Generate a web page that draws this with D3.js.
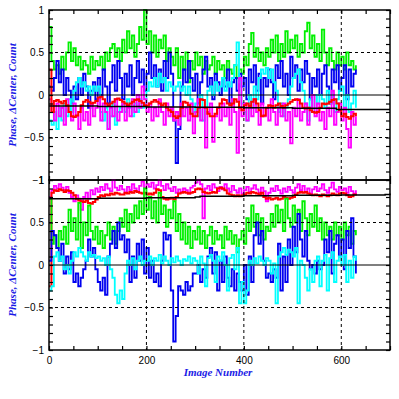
<!DOCTYPE html>
<html>
<head>
<meta charset="utf-8">
<script src="https://cdn.jsdelivr.net/npm/d3@7"></script>
<style>
body { margin: 0; background: #fff; }
svg { display: block; }
</style>
</head>
<body>
<svg></svg>
<script>
var width = 399;
var height = 399;
var left = 49;
var right = 390;

// image numbers sampled every 5 frames
var imageNumbers = d3.range(0, 631, 5);

var topGreen = [
  0.80,0.40,0.30,0.35,0.25,0.45,0.30,0.50,0.62,0.40,
  0.55,0.35,0.45,0.30,0.40,0.35,0.25,0.45,0.30,0.40,
  0.35,0.45,0.30,0.50,0.40,0.55,0.60,0.45,0.55,0.40,
  0.65,0.50,0.75,0.55,0.70,0.45,0.60,0.80,0.65,1.00,
  0.60,0.75,0.50,0.70,0.45,0.65,0.55,0.70,0.40,0.55,
  0.45,0.35,0.55,0.20,0.45,0.30,0.50,0.15,0.40,0.30,
  0.50,0.35,0.45,0.25,0.40,0.30,0.35,0.45,0.25,0.40,
  0.30,0.35,0.20,0.40,0.30,0.25,0.35,0.20,0.30,0.25,
  0.45,0.35,0.60,0.73,0.45,0.55,0.40,0.50,0.35,0.55,
  0.45,0.65,0.50,0.70,0.40,0.60,0.45,0.75,0.50,0.65,
  0.55,0.70,0.45,0.60,0.50,0.75,0.85,0.55,0.70,0.45,
  0.60,0.40,0.77,0.50,0.35,0.55,0.40,0.30,0.50,0.35,
  0.45,0.30,0.50,0.35,0.40,0.30,0.35
];
var topBlue = [
  0.10,0.05,0.20,0.40,0.15,0.30,0.00,0.20,0.05,-0.10,
  0.10,-0.05,0.20,0.00,0.25,0.10,-0.15,0.05,0.15,-0.05,
  0.20,0.00,0.30,0.10,-0.10,0.15,0.35,0.05,0.40,0.20,
  -0.05,0.25,0.10,0.35,0.00,0.20,0.40,0.15,0.30,0.05,
  0.25,0.50,0.20,0.35,0.10,0.30,0.05,0.40,0.20,0.50,
  0.25,-0.30,-0.80,-0.40,0.10,0.30,0.15,0.40,0.20,0.05,
  0.25,-0.10,0.15,0.30,0.45,0.10,0.20,-0.05,0.25,0.15,
  0.00,0.20,0.10,0.30,-0.10,0.15,0.20,0.05,0.25,0.10,
  0.20,-0.05,0.30,0.15,0.35,0.05,0.25,-0.10,0.20,0.10,
  0.30,0.15,-0.05,0.35,0.20,0.40,0.10,0.25,0.00,0.45,
  0.20,0.35,0.05,0.30,0.15,0.40,0.25,-0.05,0.20,0.10,
  0.30,0.00,0.25,0.35,0.10,-0.10,0.30,0.15,0.35,0.05,
  0.20,0.35,-0.05,0.30,0.10,0.25,0.30
];
var topCyan = [
  -0.30,-0.35,-0.20,-0.40,-0.15,-0.30,-0.10,-0.25,-0.05,-0.20,
  0.05,0.15,0.20,0.10,0.15,0.05,0.10,0.00,0.10,0.05,
  0.10,-0.20,-0.30,-0.15,-0.40,-0.25,-0.10,-0.35,-0.20,-0.15,
  -0.10,-0.20,-0.05,-0.15,-0.25,-0.10,-0.20,-0.05,-0.15,-0.10,
  0.05,0.15,0.10,0.20,0.10,0.25,0.15,0.20,0.05,0.15,
  0.10,0.05,0.10,0.15,0.05,0.10,0.00,0.10,-0.05,-0.20,
  -0.10,-0.25,0.00,-0.30,-0.15,0.05,0.10,0.00,0.15,0.05,
  0.10,0.20,0.05,0.15,0.10,0.20,0.35,0.62,0.15,-0.10,
  -0.20,-0.30,0.00,-0.15,0.10,-0.05,0.20,0.30,0.25,0.32,
  0.20,0.30,0.15,0.05,-0.20,-0.10,-0.25,-0.15,-0.05,0.10,
  0.20,0.25,0.30,0.15,0.05,-0.10,-0.30,-0.05,-0.20,0.00,
  -0.10,0.00,-0.05,-0.15,0.05,-0.10,0.00,-0.20,-0.05,0.05,
  0.10,-0.15,0.00,-0.20,-0.10,0.05,-0.15
];
var topMagenta = [
  -0.05,-0.20,-0.30,-0.10,-0.25,-0.15,-0.35,-0.05,-0.20,-0.30,
  -0.10,-0.25,-0.40,-0.15,-0.30,-0.20,-0.35,-0.10,-0.25,-0.15,
  -0.05,-0.30,-0.10,-0.20,-0.40,-0.15,-0.25,-0.05,-0.30,-0.20,
  -0.10,-0.30,-0.15,-0.25,-0.05,-0.20,0.00,-0.15,0.10,-0.05,
  -0.20,-0.10,-0.30,-0.15,-0.25,-0.05,-0.20,-0.35,-0.10,-0.25,
  -0.15,-0.30,-0.20,-0.35,-0.10,-0.25,-0.15,-0.30,-0.10,-0.45,
  -0.20,-0.05,-0.30,-0.15,-0.62,-0.20,-0.10,-0.55,-0.25,-0.15,
  -0.30,-0.10,-0.25,-0.15,-0.35,-0.05,-0.20,-0.68,0.20,-0.25,
  -0.10,-0.30,-0.15,-0.25,-0.05,-0.20,-0.35,-0.10,-0.25,-0.15,
  -0.30,-0.05,-0.20,-0.35,-0.15,-0.25,-0.10,-0.30,-0.20,-0.57,
  -0.15,-0.25,-0.05,-0.30,-0.20,-0.10,-0.35,-0.15,0.00,-0.25,
  -0.10,-0.30,-0.20,-0.40,-0.15,-0.25,0.05,-0.35,-0.20,-0.10,
  -0.30,-0.15,-0.40,-0.62,-0.20,-0.35,-0.25
];
var topRed = [
  0.30,-0.20,-0.07,-0.06,-0.08,-0.10,-0.07,-0.12,-0.20,-0.25,
  -0.26,-0.24,-0.20,-0.12,-0.08,-0.06,-0.08,-0.10,-0.09,-0.07,
  -0.03,-0.02,-0.05,-0.10,-0.12,-0.10,-0.08,-0.05,-0.04,-0.06,
  -0.08,-0.10,-0.12,-0.10,-0.08,-0.06,-0.05,-0.07,-0.09,-0.12,
  -0.13,-0.10,-0.08,-0.06,-0.08,-0.10,-0.12,-0.10,-0.15,-0.18,
  -0.20,-0.25,-0.27,-0.25,-0.15,-0.08,-0.09,-0.12,-0.22,-0.25,
  -0.25,-0.15,-0.05,-0.06,-0.15,-0.22,-0.25,-0.25,-0.22,-0.15,
  -0.10,-0.05,-0.06,-0.10,-0.12,-0.10,-0.05,-0.08,-0.15,-0.18,
  -0.12,-0.10,-0.13,-0.08,-0.05,-0.10,-0.18,-0.25,-0.24,-0.15,
  -0.12,-0.13,-0.15,-0.12,-0.10,-0.13,-0.15,-0.12,-0.10,-0.08,
  -0.06,-0.05,-0.06,-0.10,-0.15,-0.16,-0.15,-0.18,-0.20,-0.21,
  -0.20,-0.15,-0.10,-0.11,-0.10,-0.08,-0.06,-0.05,-0.10,-0.18,
  -0.25,-0.22,-0.26,-0.28,-0.25,-0.22,-0.25
];
var topBlackX = [0, 100, 200, 300, 400, 500, 590, 700];
var topBlackY = [-0.13, -0.135, -0.14, -0.145, -0.15, -0.155, -0.17, -0.17];

var bottomMagenta = [
  0.80,0.88,0.93,0.90,0.95,0.91,0.88,0.92,0.85,0.80,
  0.75,0.82,0.78,0.65,0.80,0.85,0.78,0.88,0.83,0.90,
  0.86,0.92,0.88,0.95,0.90,0.87,1.00,0.91,0.88,0.93,
  0.89,0.85,0.92,0.88,0.95,0.90,0.86,0.93,0.98,0.91,
  0.95,0.92,0.97,0.90,0.94,1.00,0.93,0.88,0.95,0.90,
  0.87,0.92,0.85,0.89,0.86,0.90,0.88,0.84,0.91,0.93,
  0.97,1.00,0.95,0.55,0.90,0.93,0.88,0.95,0.91,0.87,
  0.92,0.89,0.95,0.90,0.86,0.93,0.88,0.85,0.90,0.84,
  0.88,0.92,0.86,0.90,0.94,0.89,0.85,0.91,0.87,0.75,
  0.85,0.90,0.87,0.93,0.88,0.84,0.90,0.86,0.92,0.88,
  0.85,0.91,0.95,0.88,0.93,0.86,0.90,0.84,0.89,0.92,
  0.87,0.90,0.95,0.88,0.85,0.91,0.97,0.89,0.86,0.92,
  0.88,0.90,0.85,0.92,0.87,0.84,0.88
];
var bottomRed = [
  -0.25,0.85,0.88,0.87,0.89,0.88,0.86,0.88,0.87,0.85,
  0.82,0.78,0.76,0.75,0.74,0.76,0.73,0.72,0.74,0.77,
  0.80,0.82,0.81,0.83,0.82,0.84,0.83,0.85,0.84,0.83,
  0.83,0.85,0.84,0.86,0.85,0.87,0.86,0.85,0.84,0.85,
  0.83,0.84,0.83,0.85,0.89,0.88,0.80,0.78,0.77,0.78,
  0.79,0.77,0.80,0.84,0.85,0.86,0.85,0.84,0.85,0.86,
  0.89,0.90,0.89,0.86,0.85,0.84,0.85,0.86,0.85,0.90,
  0.91,0.90,0.88,0.84,0.83,0.82,0.81,0.82,0.81,0.82,
  0.83,0.85,0.84,0.86,0.85,0.84,0.83,0.85,0.80,0.78,
  0.79,0.77,0.78,0.79,0.77,0.78,0.80,0.79,0.78,0.79,
  0.80,0.83,0.85,0.86,0.85,0.86,0.84,0.83,0.82,0.83,
  0.82,0.81,0.83,0.82,0.81,0.82,0.84,0.83,0.82,0.84,
  0.85,0.84,0.82,0.80,0.81,0.83,0.84
];
var bottomGreen = [
  0.78,0.25,0.35,0.20,0.40,0.30,0.45,0.25,0.65,0.40,
  0.55,0.30,0.73,0.20,0.50,0.35,0.70,0.40,0.30,0.45,
  0.25,0.40,0.20,0.35,0.50,0.30,0.45,0.25,0.40,0.55,
  0.45,0.65,0.40,0.60,0.50,0.70,0.55,0.75,0.60,0.90,
  0.65,0.80,0.55,0.75,0.50,0.85,0.60,0.70,0.45,0.65,
  0.55,0.75,0.40,0.60,0.30,0.50,0.25,0.45,0.20,0.40,
  0.30,0.45,0.25,0.40,0.20,0.35,0.45,0.25,0.40,0.30,
  0.35,0.20,0.45,0.30,0.40,0.25,0.35,0.15,0.30,0.40,
  0.25,0.55,0.40,0.70,0.45,0.60,0.35,0.55,0.30,0.45,
  0.40,0.60,0.45,0.70,0.50,0.65,0.40,0.78,0.55,0.45,
  0.70,0.50,0.65,0.40,0.75,0.55,0.35,0.60,0.45,0.70,
  0.40,0.55,0.30,0.50,0.35,0.45,0.30,0.50,0.35,0.45,
  0.30,0.50,0.35,0.45,0.25,0.40,0.35
];
var bottomBlue = [
  0.05,0.40,0.35,0.20,0.05,0.25,-0.10,0.10,-0.05,0.15,
  -0.20,-0.10,-0.25,-0.15,-0.05,0.05,0.30,0.10,0.20,-0.05,
  -0.20,-0.30,-0.15,-0.35,0.10,0.25,0.40,0.20,0.50,0.30,
  0.35,0.15,0.30,-0.20,0.10,-0.15,0.25,0.05,0.30,-0.10,
  0.20,-0.15,0.05,-0.20,-0.10,-0.25,0.05,0.38,0.30,0.35,
  -0.30,-0.90,-0.60,-0.25,-0.30,-0.35,-0.20,-0.30,-0.25,-0.10,
  -0.10,0.00,-0.20,-0.05,-0.15,0.10,0.20,-0.10,0.15,-0.30,
  0.05,-0.20,0.10,-0.15,-0.25,-0.05,-0.30,-0.10,-0.20,-0.30,
  0.00,-0.35,0.10,-0.20,0.35,0.50,0.25,0.40,0.05,-0.15,
  -0.10,-0.20,-0.05,-0.15,0.25,-0.30,0.10,-0.20,0.30,0.00,
  0.45,0.15,0.60,0.30,0.10,0.40,0.05,-0.05,0.00,-0.10,
  0.05,-0.05,0.00,0.30,0.15,0.40,-0.10,0.25,0.35,0.10,
  0.30,-0.05,0.40,0.20,0.55,0.10,-0.10
];
var bottomCyan = [
  -0.30,-0.25,0.10,0.15,0.05,0.10,-0.05,0.00,-0.10,0.05,
  0.15,0.10,0.20,0.15,0.10,0.05,0.15,0.10,0.12,0.08,
  0.10,0.05,0.08,0.00,0.10,-0.05,-0.15,-0.35,-0.45,-0.30,
  -0.40,-0.10,0.05,0.00,0.08,-0.05,0.05,0.10,0.00,0.05,
  0.05,0.10,0.00,0.08,0.05,0.12,0.02,0.10,0.05,0.00,
  0.08,0.03,0.10,0.05,0.00,0.07,0.05,0.10,0.02,0.08,
  0.05,-0.10,0.10,0.02,-0.25,0.08,0.12,0.05,-0.20,0.10,
  0.05,0.15,0.00,-0.30,0.08,0.12,-0.05,0.20,-0.45,-0.20,
  -0.45,-0.30,0.05,0.00,0.08,0.02,0.10,0.05,0.00,0.08,
  0.05,-0.10,0.02,-0.45,0.10,0.15,0.20,0.12,0.18,0.15,
  0.10,0.20,-0.45,0.05,0.00,-0.15,-0.30,-0.05,-0.20,0.05,
  0.10,-0.25,0.05,0.12,-0.30,0.08,0.15,-0.20,0.05,0.10,
  0.00,0.12,-0.20,0.05,-0.15,0.10,0.05
];
var bottomBlackX = [0, 100, 200, 300, 310, 400, 500, 600, 690, 700];
var bottomBlackY = [0.78, 0.785, 0.79, 0.80, 0.81, 0.815, 0.82, 0.825, 0.83, 0.84];

var xTickValues = [0, 200, 400, 600];
var yLabelValues = [1, 0.5, 0, -0.5, -1];
var yTitle = 'Phase, \u0394Center, Count';
var xTitle = 'Image Number';

var svg = d3.select('svg')
  .attr('width', width)
  .attr('height', height);

var x = d3.scaleLinear().domain([0, 700]).range([left, right]);

function drawPanel (top, bottom, series, blackX, blackY, showX)
{
    var y = d3.scaleLinear().domain([-1, 1]).range([bottom, top]);
    var g = svg.append('g');

    var line = d3.line()
        .x(function(d, i) { return x(imageNumbers[i]); })
        .y(function(d) { return y(d); })
        .curve(d3.curveStepAfter);

    series.forEach(function (s) {
        g.append('path')
          .attr('d', line(s.values))
          .attr('fill', 'none')
          .attr('stroke', s.color)
          .attr('stroke-width', s.w || 1.8);
    });

    var blackLine = d3.line()
        .x(function(d, i) { return x(blackX[i]); })
        .y(function(d) { return y(d); })
        .curve(d3.curveStepAfter);
    g.append('path')
      .attr('d', blackLine(blackY))
      .attr('fill', 'none')
      .attr('stroke', '#000')
      .attr('stroke-width', 1.5);

    // grid over the data
    g.append('line')
      .attr('x1', left).attr('x2', right)
      .attr('y1', y(0)).attr('y2', y(0))
      .attr('stroke', '#000').attr('stroke-width', 1.2);
    [0.5, -0.5].forEach(function (v) {
        g.append('line')
          .attr('x1', left).attr('x2', right)
          .attr('y1', y(v)).attr('y2', y(v))
          .attr('stroke', '#000').attr('stroke-dasharray', '3,3');
    });
    xTickValues.slice(1).forEach(function (v) {
        g.append('line')
          .attr('x1', x(v)).attr('x2', x(v))
          .attr('y1', top).attr('y2', bottom)
          .attr('stroke', '#000').attr('stroke-dasharray', '3,3');
    });

    var minorY = d3.range(-10, 11).map(function(k) { return k / 10; });
    var minorX = d3.range(0, 701, 50);

    var yl = g.append('g')
      .attr('transform', 'translate(' + left + ',0)')
      .call(d3.axisLeft(y).tickValues(minorY).tickSize(-4).tickSizeOuter(0).tickPadding(5)
        .tickFormat(function(d) {
            var m = yLabelValues.filter(function(v) { return Math.abs(v - d) < 1e-6; });
            return m.length ? d3.format('')(m[0]) : '';
        }));
    yl.selectAll('text').attr('font-family', 'Liberation Sans, Arial, sans-serif').attr('font-size', 10).attr('fill', '#000');

    g.append('g')
      .attr('transform', 'translate(' + right + ',0)')
      .call(d3.axisRight(y).tickValues(minorY).tickSize(-4).tickSizeOuter(0).tickFormat(''));

    g.append('g')
      .attr('transform', 'translate(0,' + top + ')')
      .call(d3.axisTop(x).tickValues(minorX).tickSize(-4).tickSizeOuter(0).tickFormat(''));

    var xb = g.append('g')
      .attr('transform', 'translate(0,' + bottom + ')')
      .call(d3.axisBottom(x).tickValues(minorX).tickSize(-4).tickSizeOuter(0).tickPadding(7)
        .tickFormat(function(d) { return (showX && xTickValues.indexOf(d) >= 0) ? d : ''; }));
    xb.selectAll('text').attr('font-family', 'Liberation Sans, Arial, sans-serif').attr('font-size', 10).attr('fill', '#000');

    svg.selectAll('.domain').remove();
    g.selectAll('.tick line').attr('stroke', '#000').attr('stroke-width', 1.2);

    g.append('rect')
      .attr('x', left).attr('y', top)
      .attr('width', right - left).attr('height', bottom - top)
      .attr('fill', 'none').attr('stroke', '#000').attr('stroke-width', 1.5);

    g.append('text')
      .attr('transform', 'translate(16,' + ((top + bottom) / 2) + ') rotate(-90)')
      .attr('text-anchor', 'middle')
      .attr('font-family', 'Liberation Serif, serif')
      .attr('font-style', 'italic')
      .attr('font-weight', 'bold')
      .attr('font-size', 11)
      .attr('fill', '#1a1ae6')
      .text(yTitle);
}

drawPanel(10, 180, [
    { values: topGreen, color: '#00f000' },
    { values: topBlue, color: '#0000f0' },
    { values: topCyan, color: '#00ffff' },
    { values: topMagenta, color: '#ff00ff' },
    { values: topRed, color: '#ff0000', w: 2 }
], topBlackX, topBlackY, false);

drawPanel(180, 350, [
    { values: bottomMagenta, color: '#ff00ff' },
    { values: bottomRed, color: '#ff0000', w: 2 },
    { values: bottomGreen, color: '#00f000' },
    { values: bottomBlue, color: '#0000f0' },
    { values: bottomCyan, color: '#00ffff' }
], bottomBlackX, bottomBlackY, true);

svg.append('text')
  .attr('x', 218)
  .attr('y', 376)
  .attr('text-anchor', 'middle')
  .attr('font-family', 'Liberation Serif, serif')
  .attr('font-style', 'italic')
  .attr('font-weight', 'bold')
  .attr('font-size', 11)
  .attr('fill', '#1a1ae6')
  .text(xTitle);
</script>
</body>
</html>
